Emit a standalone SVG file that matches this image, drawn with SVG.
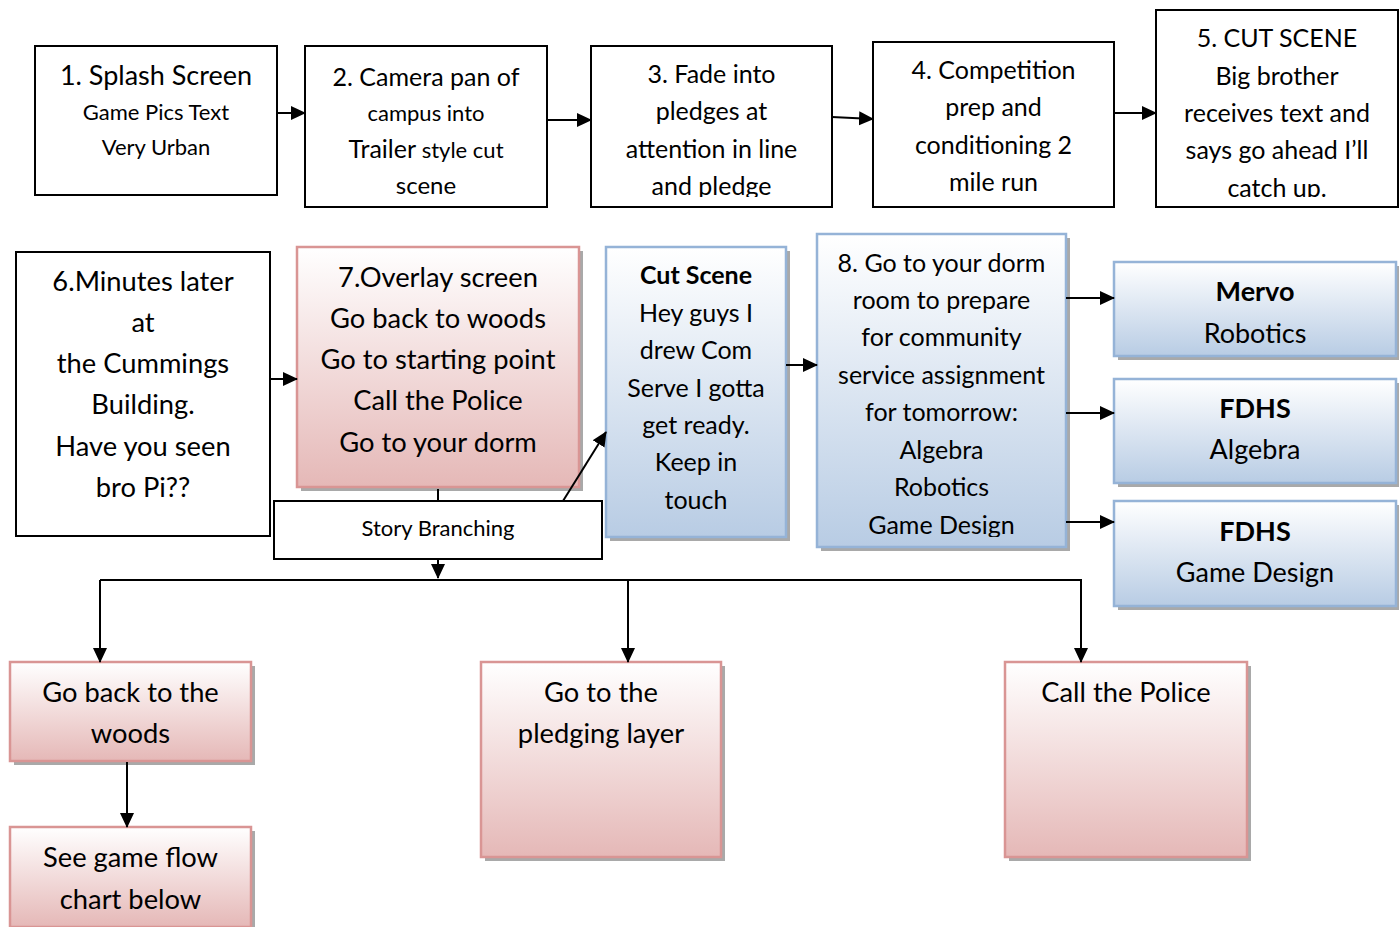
<svg xmlns="http://www.w3.org/2000/svg" width="1399" height="927" viewBox="0 0 1399 927">
<style>
text{font-family:Lato,"Open Sans","DejaVu Sans",sans-serif;fill:#000;text-anchor:middle}
.plain{fill:#fff;stroke:#000;stroke-width:2}
.pink{fill:url(#gp);stroke:#d99594;stroke-width:2.5}
.blue{fill:url(#gb);stroke:#95b3d7;stroke-width:2.5}
.sh{fill:#a9a9a9}
.c{fill:none;stroke:#000;stroke-width:2}
.b{font-weight:bold}
.L{font-size:27.3px}
</style>
<defs>
<linearGradient id="gp" x1="0" y1="0" x2="0" y2="1"><stop offset="0" stop-color="#ffffff"/><stop offset="1" stop-color="#e5b8b7"/></linearGradient>
<linearGradient id="gb" x1="0" y1="0" x2="0" y2="1"><stop offset="0" stop-color="#ffffff"/><stop offset="1" stop-color="#b8cce4"/></linearGradient>
<marker id="ah" markerWidth="15" markerHeight="15" refX="14" refY="7.5" orient="auto" markerUnits="userSpaceOnUse"><path d="M0,0.5 L15,7.5 L0,14.5 Z" fill="#000"/></marker>
<clipPath id="k3"><rect x="591" y="46" width="242" height="151"/></clipPath>
<clipPath id="k5"><rect x="1156" y="10" width="243" height="187"/></clipPath>
<clipPath id="k8"><rect x="817" y="234" width="250" height="303"/></clipPath>
</defs>

<g id="n1"><rect class="plain" x="35" y="46" width="242" height="149"/>
<text x="156" y="85" font-size="27">1. Splash Screen</text>
<text x="156" y="120" font-size="22">Game Pics Text</text>
<text x="156" y="155" font-size="22">Very Urban</text></g>

<g id="n2"><rect class="plain" x="305" y="46" width="242" height="161"/>
<text x="426" y="86" font-size="25">2. Camera pan of</text>
<text x="426" y="121" font-size="22">campus into</text>
<text x="426" y="158"><tspan font-size="25">Trailer</tspan><tspan font-size="22"> style cut</tspan></text>
<text x="426" y="194" font-size="24">scene</text></g>

<g id="n3"><rect class="plain" x="591" y="46" width="241" height="161"/>
<g clip-path="url(#k3)">
<text x="711.5" y="83" font-size="25">3. Fade into</text>
<text x="711.5" y="120" font-size="25">pledges at</text>
<text x="711.5" y="158" font-size="25">attention in line</text>
<text x="711.5" y="195" font-size="25">and pledge</text></g></g>

<g id="n4"><rect class="plain" x="873" y="42" width="241" height="165"/>
<text x="993.5" y="79" font-size="25">4. Competition</text>
<text x="993.5" y="116" font-size="25">prep and</text>
<text x="993.5" y="154" font-size="25">conditioning 2</text>
<text x="993.5" y="191" font-size="25">mile run</text></g>

<g id="n5"><rect class="plain" x="1156" y="10" width="242" height="197"/>
<g clip-path="url(#k5)">
<text x="1277" y="47" font-size="25">5. CUT SCENE</text>
<text x="1277" y="85" font-size="25">Big brother</text>
<text x="1277" y="122" font-size="25">receives text and</text>
<text x="1277" y="159" font-size="25">says go ahead I’ll</text>
<text x="1277" y="197" font-size="25">catch up.</text></g></g>

<g id="n6"><rect class="plain" x="16" y="252" width="254" height="284"/>
<text x="143" y="291" class="L">6.Minutes later</text>
<text x="143" y="332" class="L">at</text>
<text x="143" y="373" class="L">the Cummings</text>
<text x="143" y="414" class="L">Building.</text>
<text x="143" y="456" class="L">Have you seen</text>
<text x="143" y="497" class="L">bro Pi??</text></g>

<g id="n7"><rect class="sh" x="301" y="251" width="282" height="240"/>
<rect class="pink" x="297" y="247" width="282" height="240"/>
<text x="438" y="287" class="L">7.Overlay screen</text>
<text x="438" y="328" class="L">Go back to woods</text>
<text x="438" y="369" class="L">Go to starting point</text>
<text x="438" y="410" class="L">Call the Police</text>
<text x="438" y="452" class="L">Go to your dorm</text></g>

<g id="story"><rect class="plain" x="274" y="501" width="328" height="58"/>
<text x="438" y="536" font-size="22">Story Branching</text></g>

<g id="cut"><rect class="sh" x="610" y="251" width="180" height="290"/>
<rect class="blue" x="606" y="247" width="180" height="290"/>
<text x="696" y="284" font-size="25" class="b">Cut Scene</text>
<text x="696" y="322" font-size="25">Hey guys I</text>
<text x="696" y="359" font-size="25">drew Com</text>
<text x="696" y="397" font-size="25">Serve I gotta</text>
<text x="696" y="434" font-size="25">get ready.</text>
<text x="696" y="471" font-size="25">Keep in</text>
<text x="696" y="509" font-size="25">touch</text></g>

<g id="n8"><rect class="sh" x="821" y="238" width="249" height="313"/>
<rect class="blue" x="817" y="234" width="249" height="313"/>
<g clip-path="url(#k8)">
<text x="941.5" y="272" font-size="25">8. Go to your dorm</text>
<text x="941.5" y="309" font-size="25">room to prepare</text>
<text x="941.5" y="346" font-size="25">for community</text>
<text x="941.5" y="384" font-size="25">service assignment</text>
<text x="941.5" y="421" font-size="25">for tomorrow:</text>
<text x="941.5" y="459" font-size="25">Algebra</text>
<text x="941.5" y="496" font-size="25">Robotics</text>
<text x="941.5" y="534" font-size="25">Game Design</text></g></g>

<g id="mervo"><rect class="sh" x="1118" y="266" width="281" height="94"/>
<rect class="blue" x="1114" y="262" width="282" height="94"/>
<text x="1255" y="301" font-size="27" class="b">Mervo</text>
<text x="1255" y="343" font-size="27">Robotics</text></g>

<g id="algebra"><rect class="sh" x="1118" y="383" width="281" height="104"/>
<rect class="blue" x="1114" y="379" width="282" height="104"/>
<text x="1255" y="418" font-size="27" class="b">FDHS</text>
<text x="1255" y="459" font-size="27">Algebra</text></g>

<g id="gamedesign"><rect class="sh" x="1118" y="505" width="281" height="105"/>
<rect class="blue" x="1114" y="501" width="282" height="105"/>
<text x="1255" y="541" font-size="27" class="b">FDHS</text>
<text x="1255" y="582" font-size="27">Game Design</text></g>

<g id="woods"><rect class="sh" x="14" y="666" width="241" height="99"/>
<rect class="pink" x="10" y="662" width="241" height="99"/>
<text x="130.5" y="702" class="L">Go back to the</text>
<text x="130.5" y="743" class="L">woods</text></g>

<g id="seeflow"><rect class="sh" x="14" y="831" width="241" height="100"/>
<rect class="pink" x="10" y="827" width="241" height="100"/>
<text x="130.5" y="867" class="L">See game flow</text>
<text x="130.5" y="909" class="L">chart below</text></g>

<g id="pledging"><rect class="sh" x="485" y="666" width="240" height="195"/>
<rect class="pink" x="481" y="662" width="240" height="195"/>
<text x="601" y="702" class="L">Go to the</text>
<text x="601" y="743" class="L">pledging layer</text></g>

<g id="police"><rect class="sh" x="1009" y="666" width="242" height="195"/>
<rect class="pink" x="1005" y="662" width="242" height="195"/>
<text x="1126" y="702" class="L">Call the Police</text></g>

<g id="connectors">
<line class="c" x1="277" y1="113" x2="305" y2="113" marker-end="url(#ah)"/>
<line class="c" x1="547" y1="120" x2="591" y2="120" marker-end="url(#ah)"/>
<line class="c" x1="832" y1="117" x2="873" y2="119" marker-end="url(#ah)"/>
<line class="c" x1="1114" y1="113" x2="1156" y2="113" marker-end="url(#ah)"/>
<line class="c" x1="270" y1="379" x2="297" y2="379" marker-end="url(#ah)"/>
<line class="c" x1="438" y1="489" x2="438" y2="501"/>
<line class="c" x1="563" y1="501" x2="606" y2="432" marker-end="url(#ah)"/>
<line class="c" x1="438" y1="559" x2="438" y2="578" marker-end="url(#ah)"/>
<line class="c" x1="786" y1="365" x2="817" y2="365" marker-end="url(#ah)"/>
<line class="c" x1="1066" y1="298" x2="1114" y2="298" marker-end="url(#ah)"/>
<line class="c" x1="1066" y1="413" x2="1114" y2="413" marker-end="url(#ah)"/>
<line class="c" x1="1066" y1="522" x2="1114" y2="522" marker-end="url(#ah)"/>
<polyline class="c" points="100,580 1081,580 1081,662" marker-end="url(#ah)"/>
<line class="c" x1="100" y1="580" x2="100" y2="662" marker-end="url(#ah)"/>
<line class="c" x1="628" y1="580" x2="628" y2="662" marker-end="url(#ah)"/>
<line class="c" x1="127" y1="762" x2="127" y2="827" marker-end="url(#ah)"/>
</g>
</svg>
